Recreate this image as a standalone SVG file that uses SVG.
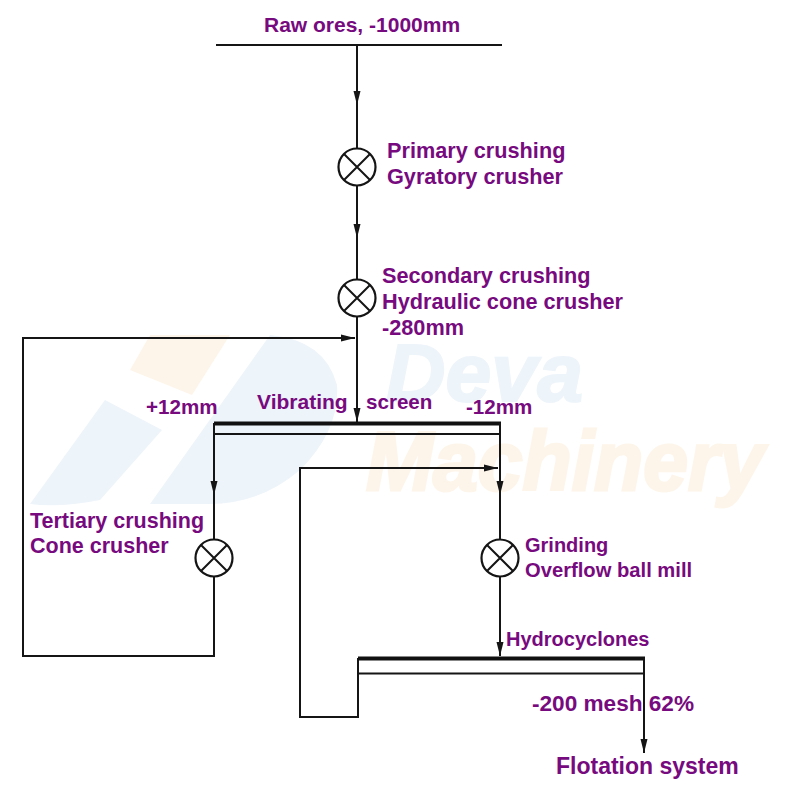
<svg xmlns="http://www.w3.org/2000/svg" width="800" height="798" viewBox="0 0 800 798">
<style>
.l{font-family:"Liberation Sans",Arial,sans-serif;font-weight:700;font-size:20px;fill:#770a7e}
.w{font-family:"Liberation Sans",Arial,sans-serif;font-weight:700;font-style:italic}
.c{fill:none;stroke:#151515;stroke-width:2}
.t{fill:none;stroke:#111;stroke-width:4}
.n{fill:#fff;stroke:#151515;stroke-width:2.2}
</style>
<defs>
<marker id="a" markerUnits="userSpaceOnUse" markerWidth="14" markerHeight="8" refX="14" refY="4" orient="auto"><path d="M0 0.500L14 4L0 7.500z" fill="#151515"/></marker>
<g id="x"><circle r="18.5" class="n"/><path class="c" d="M-13-13L13 13M-13 13L13-13"/></g>
</defs>
<rect width="800" height="798" fill="#fff"/>
<g id="watermark">
<path d="M30 504L105 400L162 430L100 500Q60 508 30 504Z" fill="#edf4fa"/>
<path d="M150 504L270 335Q325 340 337 385Q340 430 300 470Q260 504 210 504Z" fill="#edf4fa"/>
<path d="M130 370L150 335H230L192 395Z" fill="#fdf5ea"/>
<text class="w" x="386" y="401" font-size="82" fill="#edf4fa" stroke="#edf4fa" stroke-width="2" textLength="197" lengthAdjust="spacingAndGlyphs">Deva</text>
<text class="w" x="366" y="490" font-size="84" fill="#fdf5ea" stroke="#fdf5ea" stroke-width="3" textLength="398" lengthAdjust="spacingAndGlyphs">Machinery</text>
</g>
<g id="connectors">
<path class="c" d="M216 45H502"/>
<path class="c" d="M357 45V105" marker-end="url(#a)"/><path class="c" d="M357 100V150"/>
<path class="c" d="M357 185V238" marker-end="url(#a)"/><path class="c" d="M357 235V282"/>
<path class="c" d="M357 315V422" marker-end="url(#a)"/>
<path class="t" d="M214 423.500H501"/>
<path class="c" d="M214 434H500"/>
<path class="c" d="M214 423V495" marker-end="url(#a)"/><path class="c" d="M214 490V540"/>
<path class="c" d="M500 423V495" marker-end="url(#a)"/><path class="c" d="M500 490V540"/>
<path class="c" d="M214 576V656H23V338H355" marker-end="url(#a)"/>
<path class="c" d="M358 658V717H300V468H498" marker-end="url(#a)"/>
<path class="c" d="M500 576V656" marker-end="url(#a)"/>
<path class="t" d="M358 658.500H645"/>
<path class="c" d="M358 673.500H644"/>
<path class="c" d="M644 658V753" marker-end="url(#a)"/>
</g>
<g id="raw"><text class="l" x="264" y="32" style="font-size:21px">Raw ores, -1000mm</text></g>
<g id="primary"><use href="#x" x="357" y="167"/><text class="l" style="font-size:21.700px" x="387" y="158">Primary crushing</text><text class="l" style="font-size:21.700px" x="387" y="184">Gyratory crusher</text></g>
<g id="secondary"><use href="#x" x="357" y="298"/><text class="l" style="font-size:21.700px" x="382" y="283">Secondary crushing</text><text class="l" style="font-size:21.700px" x="382" y="309">Hydraulic cone crusher</text><text class="l" style="font-size:21.700px" x="382" y="335">-280mm</text></g>
<g id="screen"><text class="l" style="font-size:21px" x="257" y="409">Vibrating</text><text class="l" style="font-size:20.600px" x="366" y="409">screen</text><text class="l" style="font-size:20.600px" x="146" y="414">+12mm</text><text class="l" style="font-size:20.600px" x="466" y="414">-12mm</text></g>
<g id="tertiary"><use href="#x" x="214" y="558"/><text class="l" style="font-size:21.500px" x="30" y="528">Tertiary crushing</text><text class="l" style="font-size:21.500px" x="30" y="553">Cone crusher</text></g>
<g id="grinding"><use href="#x" x="500" y="558"/><text class="l" x="525" y="552">Grinding</text><text class="l" style="font-size:20.200px" x="525" y="577">Overflow ball mill</text></g>
<g id="hydrocyclones"><text class="l" x="506" y="646">Hydrocyclones</text></g>
<g id="mesh"><text class="l" style="font-size:22.600px" x="532" y="711">-200 mesh 62%</text></g>
<g id="flotation"><text class="l" style="font-size:23px" x="556" y="774">Flotation system</text></g>
</svg>
